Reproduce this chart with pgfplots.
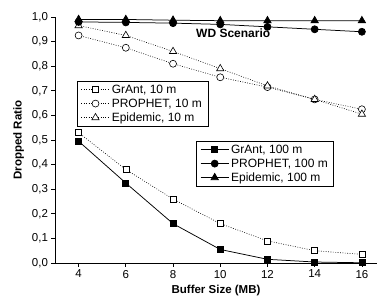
\documentclass[border=0pt]{standalone}
\usepackage{fontspec}
\setmainfont{Liberation Sans}
\usepackage{pgfplots}
\pgfplotsset{compat=1.18}
\pgfplotsset{
  common/.style={
    scale only axis, width=322pt, height=246pt,
    xmin=3, xmax=16.64, ymin=0, ymax=1,
    clip=false,
    legend image code/.code={
      \draw[mark repeat=2,mark phase=2,##1] plot coordinates {(0pt,0pt) (14pt,0pt) (28pt,0pt)};
    },
    legend style={draw=black, line width=0.6pt, font=\fontsize{12}{14}\selectfont,
      cells={anchor=west}, inner xsep=4pt, inner ysep=1.5pt, row sep=0pt},
  },
  dotl/.style={black, line width=0.6pt, dash pattern=on 0.8pt off 1.6pt, mark options={solid, fill=white, line width=0.6pt}},
  soll/.style={black, line width=0.75pt, mark options={solid, fill=black}},
}
\begin{document}
\begin{tikzpicture}
\useasboundingbox (-55pt,-37pt) rectangle (322pt,263pt);
\begin{axis}[common,
  axis x line*=bottom, axis y line*=left,
  axis line style={line width=0.75pt, -},
  xtick={4,6,8,10,12,14,16},
  ytick={0,0.1,0.2,0.3,0.4,0.5,0.6,0.7,0.8,0.9,1.0},
  tick align=outside, major tick length=3.5pt,
  tick style={line width=0.75pt, black},
  /pgf/number format/assume math mode=true,
  yticklabel style={/pgf/number format/.cd, fixed, fixed zerofill, precision=1, use comma},
  ticklabel style={font=\fontsize{11.5}{13}\selectfont},
  xlabel={\bfseries Buffer Size (MB)},
  ylabel={\bfseries Dropped Ratio},
  label style={font=\fontsize{11.5}{13}\selectfont},
  xlabel style={yshift=0pt},
  ylabel style={yshift=1pt},
  legend style={at={(0.068,0.74)}, anchor=north west},
]
\addplot[dotl, mark=square*, mark size=3pt] coordinates {(4,0.53) (6,0.38) (8,0.26) (10,0.16) (12,0.09) (14,0.05) (16,0.035)};
\addlegendentry{GrAnt, 10 m}
\addplot[dotl, mark=*, mark size=3.5pt] coordinates {(4,0.925) (6,0.875) (8,0.81) (10,0.755) (12,0.715) (14,0.665) (16,0.625)};
\addlegendentry{PROPHET, 10 m}
\addplot[dotl, mark=triangle*, mark size=4.2pt] coordinates {(4,0.965) (6,0.925) (8,0.86) (10,0.79) (12,0.72) (14,0.665) (16,0.605)};
\addlegendentry{Epidemic, 10 m}
\node[font=\fontsize{12}{14}\selectfont\bfseries] at (axis cs:10.55,0.935) {WD Scenario};
\end{axis}
\begin{axis}[common,
  axis lines=none, ticks=none,
  legend style={at={(0.438,0.496)}, anchor=north west},
]
\addplot[soll, mark=square*, mark size=3pt] coordinates {(4,0.495) (6,0.325) (8,0.16) (10,0.055) (12,0.015) (14,0.004) (16,0.001)};
\addlegendentry{GrAnt, 100 m}
\addplot[soll, mark=*, mark size=3.5pt] coordinates {(4,0.98) (6,0.978) (8,0.975) (10,0.97) (12,0.96) (14,0.95) (16,0.94)};
\addlegendentry{PROPHET, 100 m}
\addplot[soll, mark=triangle*, mark size=4.2pt] coordinates {(4,0.99) (6,0.99) (8,0.987) (10,0.985) (12,0.985) (14,0.985) (16,0.985)};
\addlegendentry{Epidemic, 100 m}
\end{axis}
\end{tikzpicture}
\end{document}
